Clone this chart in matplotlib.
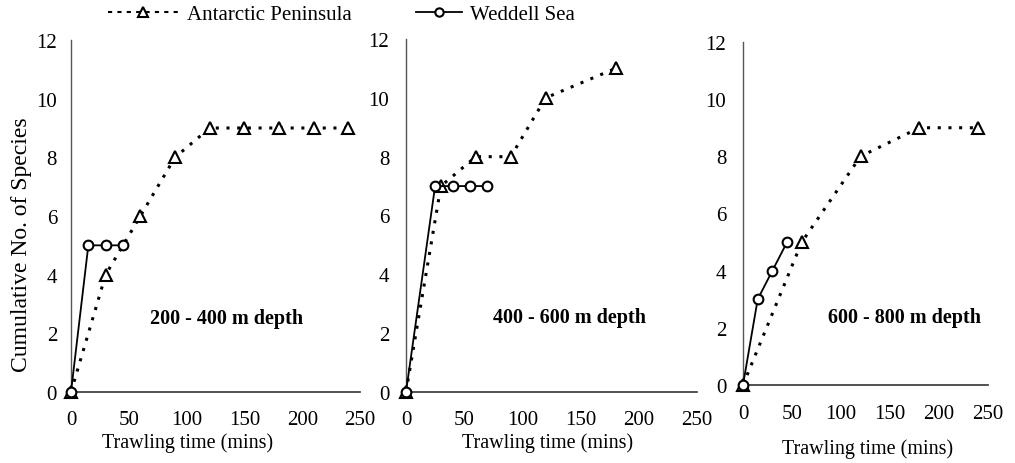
import matplotlib
matplotlib.use("Agg")
import matplotlib.pyplot as plt
from matplotlib.lines import Line2D

plt.rcParams['font.family'] = ['Liberation Serif', 'DejaVu Serif']

# trawling time (mins) and cumulative species, per depth band
ap_x1 = [0, 30, 60, 90, 120, 150, 180, 210, 240]
ap_y1 = [0, 4, 6, 8, 9, 9, 9, 9, 9]
ws_x1 = [0, 15, 30, 45]
ws_y1 = [0, 5, 5, 5]

ap_x2 = [0, 30, 60, 90, 120, 180]
ap_y2 = [0, 7, 8, 8, 10, 11]
ws_x2 = [0, 25, 40, 55, 70]
ws_y2 = [0, 7, 7, 7, 7]

ap_x3 = [0, 60, 120, 180, 240]
ap_y3 = [0, 5, 8, 9, 9]
ws_x3 = [0, 15, 30, 45]
ws_y3 = [0, 3, 4, 5]

depths = ["200 - 400 m depth", "400 - 600 m depth", "600 - 800 m depth"]
xticks = [0, 50, 100, 150, 200, 250]
yticks = [0, 2, 4, 6, 8, 10, 12]

W, H = 1015, 464
fig = plt.figure(figsize=(W / 100, H / 100), dpi=100)

# axes boxes in pixels: left, right, top, bottom
boxes = [(71, 360, 41, 393), (406, 697, 40, 393), (743, 988, 43, 386)]
ypads = [10, 12, 12]
xpads = [13, 13, 14]
xlab_pos = [(0.405, -0.115), (0.485, -0.115), (0.51, -0.155)]
txt_pos = [(0.537, 0.21), (0.563, 0.212), (0.661, 0.198)]
series = [(ap_x1, ap_y1, ws_x1, ws_y1), (ap_x2, ap_y2, ws_x2, ws_y2),
          (ap_x3, ap_y3, ws_x3, ws_y3)]

axes = []
for i, (l, r, t, b) in enumerate(boxes):
    ax = fig.add_axes([l / W, 1 - b / H, (r - l) / W, (b - t) / H])
    axes.append(ax)
    apx, apy, wsx, wsy = series[i]
    ax.plot(apx, apy, linestyle=(0, (1, 2.5)), lw=2.2, color='black',
            marker='^', ms=8, mfc='white', mec='black', mew=1.5,
            clip_on=False, zorder=3)
    ax.plot(wsx, wsy, linestyle='-', lw=1.3, color='black',
            marker='o', ms=7, mfc='white', mec='black', mew=1.5,
            clip_on=False, zorder=4)
    ax.set_xlim(0, 250)
    ax.set_ylim(0, 12)
    ax.set_xticks(xticks)
    ax.set_yticks(yticks)
    ax.tick_params(length=0, labelsize=15)
    ax.tick_params(axis='y', pad=ypads[i])
    ax.tick_params(axis='x', pad=xpads[i])
    for s in ['top', 'right']:
        ax.spines[s].set_visible(False)
    ax.spines['left'].set_color('#555555')
    ax.spines['bottom'].set_color('#333333')
    ax.spines['left'].set_linewidth(1)
    ax.spines['bottom'].set_linewidth(1.2)
    ax.set_xlabel("Trawling time (mins)", fontsize=14.5)
    ax.xaxis.set_label_coords(*xlab_pos[i])
    ax.text(txt_pos[i][0], txt_pos[i][1], depths[i], transform=ax.transAxes,
            ha='center', va='center', fontsize=14.5, fontweight='bold')

axes[0].set_ylabel("Cumulative No. of Species", fontsize=17)
axes[0].yaxis.set_label_coords(-0.17, 0.42)
axes[0].yaxis.label.set_va('center')

ap_handle = Line2D([], [], linestyle=(0, (2, 2.5)), lw=1.5, color='black',
                   marker='^', ms=7, mfc='white', mec='black', mew=1.5)
ws_handle = Line2D([], [], linestyle='-', lw=1.3, color='black',
                   marker='o', ms=6, mfc='white', mec='black', mew=1.5)
leg1 = fig.legend(handles=[ap_handle], labels=["Antarctic Peninsula"],
                  loc='center left', bbox_to_anchor=(108 / W, 1 - 15 / H),
                  frameon=False, fontsize=15, handlelength=3.4,
                  handletextpad=0.4, borderpad=0, borderaxespad=0)
leg2 = fig.legend(handles=[ws_handle], labels=["Weddell Sea"],
                  loc='center left', bbox_to_anchor=(416 / W, 1 - 15 / H),
                  frameon=False, fontsize=15, handlelength=2.2,
                  handletextpad=0.4, borderpad=0, borderaxespad=0)

fig.savefig("out.png", dpi=100)
